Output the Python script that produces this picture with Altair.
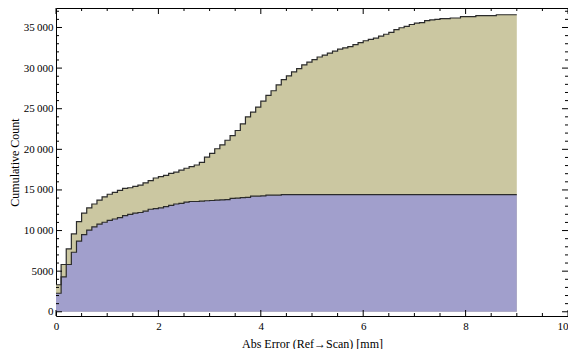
import altair as alt
import pandas as pd

# ---- data (cumulative counts per 0.1 mm bin) ----
BIN_WIDTH = 0.1
TOTAL = [
    3330, 5820, 7740, 9580, 11100, 12140, 12790, 13270, 13750, 14150,
    14470, 14710, 14950, 15190, 15270, 15430, 15590, 15870, 16150, 16470,
    16630, 16790, 17030, 17190, 17430, 17670, 17870, 18070, 18390, 19030,
    19510, 20070, 20550, 21120, 21680, 22320, 23130, 24000, 24570, 25200,
    25930, 26650, 27210, 27930, 28570, 29050, 29530, 29930, 30410, 30730,
    31050, 31370, 31610, 31850, 32090, 32330, 32500, 32650, 32890, 33130,
    33370, 33530, 33690, 33930, 34170, 34410, 34730, 34970, 35130, 35370,
    35530, 35610, 35850, 35930, 36010, 36090, 36090, 36170, 36170, 36330,
    36330, 36330, 36450, 36450, 36450, 36450, 36570, 36570, 36570, 36570,
]
MATCHED = [
    2280, 4290, 5820, 7330, 8700, 9500, 10060, 10460, 10780, 11020,
    11260, 11420, 11590, 11830, 11980, 12140, 12220, 12380, 12620, 12700,
    12790, 12950, 13100, 13270, 13340, 13510, 13580, 13580, 13620, 13670,
    13700, 13750, 13780, 13820, 13950, 13990, 14060, 14080, 14230, 14230,
    14260, 14350, 14350, 14350, 14420, 14420, 14420, 14420, 14420, 14420,
    14420, 14420, 14420, 14420, 14420, 14420, 14420, 14420, 14420, 14420,
    14420, 14420, 14420, 14420, 14420, 14420, 14420, 14420, 14420, 14420,
    14420, 14420, 14420, 14420, 14420, 14420, 14420, 14420, 14420, 14420,
    14420, 14420, 14420, 14420, 14420, 14420, 14420, 14420, 14420, 14420,
]

X_MAJOR = [0, 2, 4, 6, 8, 10]
X_MINOR = [0.5, 1, 1.5, 2.5, 3, 3.5, 4.5, 5, 5.5, 6.5, 7, 7.5, 8.5, 9, 9.5]
Y_MAJOR = [0, 5000, 10000, 15000, 20000, 25000, 30000, 35000]
Y_MINOR = [1000, 2000, 3000, 4000, 6000, 7000, 8000, 9000, 11000, 12000,
           13000, 14000, 16000, 17000, 18000, 19000, 21000, 22000, 23000,
           24000, 26000, 27000, 28000, 29000, 31000, 32000, 33000, 34000,
           36000, 37000]

BEIGE = "#cbc7a1"
LAVENDER = "#a19fcc"
EDGE = "#2b2b2b"
SERIF = "Liberation Serif, Times New Roman, DejaVu Serif, serif"
W, H = 512, 308


def steps(vals):
    rows = [{"x": round(i * BIN_WIDTH, 2), "y": v} for i, v in enumerate(vals)]
    rows.append({"x": round(len(vals) * BIN_WIDTH, 2), "y": vals[-1]})
    return pd.DataFrame(rows)


df_total = steps(TOTAL)
df_match = steps(MATCHED)

xs = alt.Scale(domain=[0, 10], nice=False, zero=False)
ys = alt.Scale(domain=[-520, 37400], nice=False, zero=False)

label_expr = ("datum.value >= 10000 ? replace(format(datum.value, ','), ',', '\u2009')"
              " : format(datum.value, 'd')")

x_enc = alt.X("x:Q", scale=xs,
              axis=alt.Axis(values=X_MAJOR, title="Abs Error (Ref\u2192Scan) [mm]",
                            labelPadding=4, titlePadding=7, format="d",
                            labelFlush=False,
                            labelAlign={"condition": {"test": "datum.value == 10", "value": "right"},
                                        "value": "center"}))
y_enc = alt.Y("y:Q", scale=ys,
              axis=alt.Axis(values=Y_MAJOR, title="Cumulative Count",
                            labelExpr=label_expr, labelPadding=3, titlePadding=2,
                            labelFlush=False))

area_total = alt.Chart(df_total).mark_area(interpolate="step-after", color=BEIGE).encode(
    x=x_enc, y=y_enc, y2=alt.datum(0))
line_total = alt.Chart(df_total).mark_line(interpolate="step-after", color=EDGE, strokeWidth=1.2).encode(
    x="x:Q", y="y:Q")
area_match = alt.Chart(df_match).mark_area(interpolate="step-after", color=LAVENDER).encode(
    x="x:Q", y="y:Q", y2=alt.datum(0))
line_match = alt.Chart(df_match).mark_line(interpolate="step-after", color=EDGE, strokeWidth=1.2).encode(
    x="x:Q", y="y:Q")


def xticks(vals, length):
    d = pd.DataFrame({"x": vals})
    bottom = alt.Chart(d).mark_rule(color="black", strokeWidth=1).encode(
        x="x:Q", y=alt.value(H), y2=alt.value(H - length))
    top = alt.Chart(d).mark_rule(color="black", strokeWidth=1).encode(
        x="x:Q", y=alt.value(0), y2=alt.value(length))
    return [bottom, top]


def yticks(vals, length):
    d = pd.DataFrame({"y": vals})
    left = alt.Chart(d).mark_rule(color="black", strokeWidth=1).encode(
        y="y:Q", x=alt.value(0), x2=alt.value(length))
    right = alt.Chart(d).mark_rule(color="black", strokeWidth=1).encode(
        y="y:Q", x=alt.value(W), x2=alt.value(W - length))
    return [left, right]


layers = [area_total, area_match, line_total, line_match]
layers += xticks(X_MAJOR, 6) + xticks(X_MINOR, 3)
layers += yticks(Y_MAJOR, 6) + yticks(Y_MINOR, 3)

chart = alt.layer(*layers).properties(
    width=W, height=H,
    padding={"left": 48, "top": 0, "right": 0, "bottom": 33},
    autosize=alt.AutoSizeParams(type="none"),
).configure_view(
    stroke="black", strokeWidth=1
).configure_axis(
    domain=False, ticks=False, grid=False,
    labelFont=SERIF, labelFontSize=11, labelColor="black",
    titleFont=SERIF, titleFontSize=12, titleFontWeight="normal",
    titleColor="black",
)

chart.save("out.html", embed_options={"renderer": "svg", "actions": False})
